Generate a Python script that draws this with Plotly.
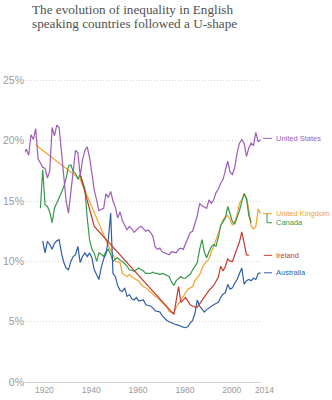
import plotly.graph_objects as go

# ---- data (top 1% income share, %) ----
us_years = list(range(1913, 2015))
us_vals = [18.9, 19.3, 18.8, 20.5, 20.1, 21.0, 18.5,
           18.2, 17.8, 17.7, 16.9, 17.5, 21.1, 20.4, 21.3, 21.1, 19.2,
           16.8, 15.0, 14.0, 15.6, 17.3, 19.2, 19.0, 17.1, 18.4, 19.2,
           19.5, 18.6, 17.3, 15.9, 15.1, 14.2, 14.3, 14.4, 15.6, 15.3,
           15.8, 15.0, 14.5, 13.6, 14.1, 13.4, 13.0, 12.6, 12.9, 12.7,
           12.4, 12.6, 12.8, 12.9, 12.7, 12.5, 12.6, 12.4, 12.1, 11.2,
           11.0, 11.1, 10.8, 10.7, 10.6, 10.55, 10.8, 10.75, 10.7, 11.0,
           11.1, 11.0, 11.5, 12.0, 12.4, 12.5, 13.2, 13.8, 14.8, 14.6,
           14.5, 14.4, 15.1, 14.8, 15.1, 15.7, 16.0, 16.5, 16.8, 17.6,
           18.3, 17.4, 17.2, 17.8, 19.0, 19.8, 20.1, 19.8, 18.7, 19.4,
           19.8, 19.6, 20.7, 19.9, 20.1]

ca_years = list(range(1920, 2011))
ca_vals = [14.4, 17.6, 14.7, 14.55, 14.1, 13.2, 14.4, 14.8, 15.2, 15.7,
           16.2, 16.9, 17.9, 18.0, 17.45, 17.3, 16.8, 17.2, 16.6, 16.0,
           13.6, 11.8, 11.0, 10.7, 10.0, 10.7, 10.6, 10.4, 10.8, 11.0,
           10.6, 10.0, 10.2, 10.3, 10.1, 10.0, 9.8, 9.6, 9.3, 9.25,
           9.2, 9.3, 9.45, 9.3, 9.2, 9.0, 9.0, 9.0, 9.1, 9.0,
           9.0, 8.9, 9.0, 8.9, 8.85, 8.75, 8.3, 8.0, 8.4, 8.6,
           8.75, 8.6, 8.6, 8.8, 8.9, 9.3, 9.6, 9.9, 11.0, 11.8,
           10.8, 10.3, 10.8, 11.2, 11.4, 11.25, 12.0, 13.0, 13.3, 13.6,
           14.55, 13.8, 13.3, 13.1, 13.6, 14.2, 15.0, 15.6, 15.2, 13.8,
           13.2]

uk_years = [1918, 1919, 1937, 1949, 1951] + list(range(1952, 2015))
uk_vals = [19.7, 19.5, 16.8, 11.3, 10.6,
           10.0, 9.95, 9.9, 9.0, 8.9, 8.75, 8.9, 8.7,
           8.6, 8.5, 8.35, 8.1, 7.9, 7.8, 7.65, 7.5, 7.3, 7.1,
           7.0, 6.8, 6.6, 6.4, 6.2, 5.85, 5.75, 5.7, 6.2, 6.5,
           6.8, 7.1, 7.4, 7.7, 7.8, 7.9, 8.4, 8.7, 8.9, 9.4,
           9.8, 10.0, 10.2, 10.8, 11.2, 11.8, 12.4, 12.8, 13.45, 13.7,
           13.8, 13.45, 13.0, 13.3, 13.9, 14.8, 15.1, 15.65, 15.3, 14.3,
           12.9, 12.7, 12.9, 14.35, 13.95]

ie_years = [1937, 1943] + list(range(1977, 2010))
ie_vals = [17.2, 12.9,
           5.6, 6.8, 7.9,
           6.6, 6.8, 7.0, 6.7, 6.4, 6.3, 6.2, 6.2, 6.5, 6.7,
           7.0, 7.4, 7.6, 7.8, 8.0, 8.35, 8.7, 9.6, 9.2, 9.6,
           10.2, 10.0, 10.0, 10.55, 11.0, 11.6, 12.45, 11.4, 10.55, 10.5]

au_years = list(range(1921, 2015))
au_vals = [11.7, 10.7, 11.65, 11.4, 11.0, 11.5, 11.7, 11.8, 10.7,
           9.9, 9.45, 9.3, 10.0, 10.4, 10.55, 11.25, 9.9, 10.4, 10.7,
           10.4, 10.7, 10.3, 9.3, 8.9, 8.5, 9.5, 10.2, 10.6, 11.8,
           14.0, 9.0, 8.75, 8.0, 7.6, 7.5, 7.8, 7.1, 7.25, 6.9,
           6.8, 7.0, 6.7, 6.75, 6.8, 6.4, 6.35, 6.3, 6.15, 5.9,
           5.85, 5.8, 5.5, 5.3, 5.1, 5.0, 4.9, 4.8, 4.75, 4.7,
           4.6, 4.55, 4.5, 4.6, 4.9, 5.1, 5.7, 6.8, 6.3, 6.0,
           5.8, 6.0, 6.15, 6.3, 6.4, 6.5, 6.6, 7.0, 7.3, 7.4,
           8.1, 7.7, 7.8, 8.2, 8.5, 9.0, 9.45, 8.1, 8.4, 8.5,
           8.4, 8.6, 8.5, 9.0, 9.05]

x_ticks = [1920, 1940, 1960, 1980, 2000, 2014]
y_ticks = [0, 5, 10, 15, 20, 25]
y_ticktext = ["0%", "5%", "10%", "15%", "20%", "25%"]

label_names = ["United States", "United Kingdom", "Canada", "Ireland", "Australia"]
label_y = [20.2, 13.95, 13.2, 10.5, 9.05]

C_US = "#9c5cb8"
C_UK = "#f2a32a"
C_CA = "#35994b"
C_IE = "#c23b2e"
C_AU = "#2f5fa6"

series = [
    ("United Kingdom", uk_years, uk_vals, C_UK),
    ("Canada", ca_years, ca_vals, C_CA),
    ("Australia", au_years, au_vals, C_AU),
    ("Ireland", ie_years, ie_vals, C_IE),
    ("United States", us_years, us_vals, C_US),
]

fig = go.Figure()
for name, xs, ys, col in series:
    fig.add_trace(go.Scatter(x=xs, y=ys, mode="lines", name=name,
                             line=dict(color=col, width=1.2),
                             hoverinfo="skip", showlegend=False))

fig.update_layout(
    width=332, height=400,
    margin=dict(l=25, r=71, t=78, b=18),
    paper_bgcolor="white", plot_bgcolor="white",
    showlegend=False,
)
fig.update_xaxes(
    range=[1913.43, 2014.2], tickvals=x_ticks, ticktext=[str(v) for v in x_ticks],
    showgrid=False, zeroline=False, showline=True, linecolor="#d2d2d2", linewidth=1,
    ticks="", ticklabelshift=4, automargin=False,
    tickfont=dict(family="Liberation Sans", size=8.5, color="#9a9a9a"),
)
fig.update_yaxes(
    range=[0, 25.2], tickvals=y_ticks, ticktext=y_ticktext,
    showgrid=True, gridcolor="#d6d6d6", griddash="1px,2px", gridwidth=1,
    zeroline=False, showline=False, ticks="", automargin=False,
    tickfont=dict(family="Liberation Sans", size=10.5, color="#9a9a9a"),
)

label_colors = {"United States": C_US, "United Kingdom": C_UK, "Canada": C_CA,
                "Ireland": C_IE, "Australia": C_AU}

for name, yv in zip(label_names, label_y):
    col = label_colors[name]
    fig.add_annotation(x=1.055, xref="paper", y=yv, yref="y", text=name,
                       showarrow=False, xanchor="left", yanchor="middle",
                       font=dict(family="Liberation Sans", size=7.5, color=col))
    if name == "Canada":
        uk_y = label_y[label_names.index("United Kingdom")]
        fig.add_shape(type="path", xref="paper", yref="y",
                      path=f"M 1.0255 {uk_y} L 1.0255 {yv} L 1.047 {yv}",
                      line=dict(color=col, width=1))
    else:
        x0 = 1.0085 if name in ("United States", "United Kingdom") else 1.0128
        fig.add_shape(type="line", xref="paper", yref="y", x0=x0, x1=1.047,
                      y0=yv, y1=yv, line=dict(color=col, width=1))

title_lines = ["The evolution of inequality in English",
               "speaking countries followed a U-shape"]
title_y = [1.226, 1.178]
for t, ty in zip(title_lines, title_y):
    fig.add_annotation(x=(30 - 25) / (332 - 25 - 71), xref="paper", y=ty, yref="paper",
                       text=t, showarrow=False, xanchor="left", yanchor="middle",
                       font=dict(family="Liberation Serif", size=13.2, color="#505050"))

fig.write_html("out.html")
